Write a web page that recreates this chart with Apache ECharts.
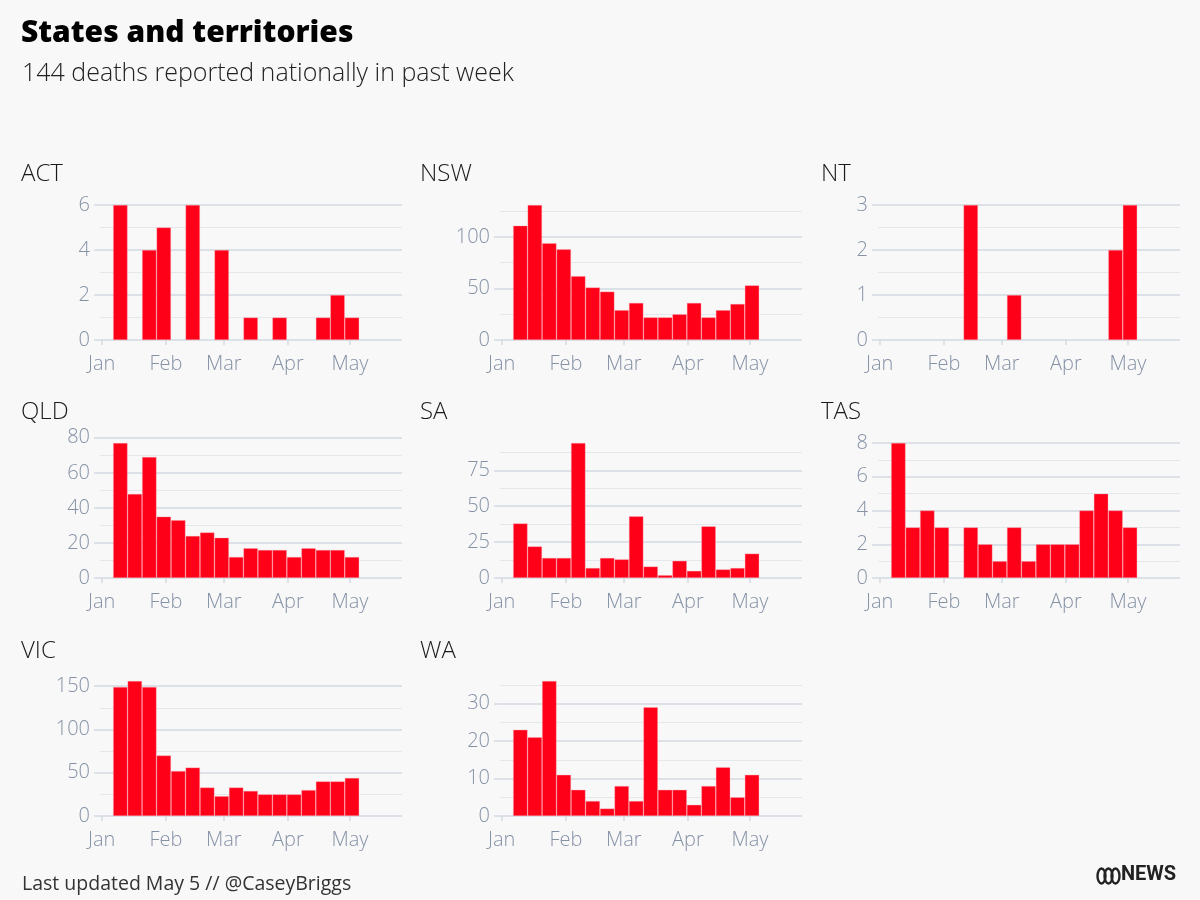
<!DOCTYPE html>
<html><head><meta charset="utf-8">
<script src="https://cdn.jsdelivr.net/npm/echarts@6/dist/echarts.min.js"></script>
<style>html,body{margin:0;padding:0;background:#f8f8f8}#c{width:1200px;height:900px}</style>
</head><body><div id="c"></div>
<script>
// ---- data ----
const weekEnding = ['2022-01-13','2022-01-20','2022-01-27','2022-02-03','2022-02-10','2022-02-17','2022-02-24',
  '2022-03-03','2022-03-10','2022-03-17','2022-03-24','2022-03-31','2022-04-07','2022-04-14','2022-04-21','2022-04-28','2022-05-05'];
const states = ['ACT','NSW','NT','QLD','SA','TAS','VIC','WA'];
const act = [6,0,4,5,0,6,0,4,0,1,0,1,0,0,1,2,1];
const nsw = [111,131,94,88,62,51,47,29,36,22,22,25,36,22,29,35,53];
const nt  = [0,0,0,0,0,3,0,0,1,0,0,0,0,0,0,2,3];
const qld = [77,48,69,35,33,24,26,23,12,17,16,16,12,17,16,16,12];
const sa  = [38,22,14,14,94,7,14,13,43,8,2,12,5,36,6,7,17];
const tas = [8,3,4,3,0,3,2,1,3,1,2,2,2,4,5,4,3];
const vic = [149,156,149,70,52,56,33,23,33,29,25,25,25,30,40,40,44];
const wa  = [23,21,36,11,7,4,2,8,4,29,7,7,3,8,13,5,11];
const seriesValues = [act, nsw, nt, qld, sa, tas, vic, wa];
const axisMaxOverride = [null,null,null,80,null,null,null,null];
const majorStep = [2,50,1,20,25,2,50,10];
const minorStep = [1,25,0.5,10,12.5,1,25,5];
const monthTicks = ['2022-01-01','2022-02-01','2022-03-01','2022-04-01','2022-05-01'];
const monthLabels = ['Jan','Feb','Mar','Apr','May'];
const titleText = 'States and territories';
const subtitleText = '144 deaths reported nationally in past week';
const footerText = 'Last updated May 5 // @CaseyBriggs';

// ---- helpers ----
function localDate(s, hours) {
  const p = s.split('-').map(Number);
  return new Date(p[0], p[1]-1, p[2], hours || 0).getTime();
}
const DAY = 86400000;
const xMin = localDate('2021-12-31', 4);
const xMax = xMin + 146 * DAY;
const monthTs = monthTicks.map(s => localDate(s));

const FONT = '"Open Sans", Lato, sans-serif';
const LABEL_COLOR = '#8592a6';
const MAJOR = '#d3d9e2';
const MINOR = '#e4e8ed';
const RED = '#ff0019';

const colLeft = [100, 500, 878];
const titleLeft = [21, 420, 821];
const rowBase = [340, 578, 816];
const plotW = 302, plotH = 135;
const titleY = [162, 400, 639];

const grids = [], xAxes = [], yAxes = [], series = [], titles = [];

titles.push({text: titleText, left: 21, top: 18, padding: 0,
  textStyle: {fontFamily: FONT, fontSize: 30, fontWeight: 800, color: '#000'}});
titles.push({text: subtitleText, left: 22, top: 61, padding: 0,
  textStyle: {fontFamily: FONT, fontSize: 25, fontWeight: 300, color: '#222'}});
titles.push({text: footerText, left: 22, top: 874, padding: 0,
  textStyle: {fontFamily: FONT, fontSize: 19.5, fontWeight: 400, color: '#333'}});

states.forEach((name, i) => {
  const col = i % 3, row = Math.floor(i / 3);
  const vals = seriesValues[i];
  const dMax = Math.max(...vals);
  const yMax = axisMaxOverride[i] != null ? axisMaxOverride[i] : dMax;
  const h = plotH * yMax / dMax;
  grids.push({left: colLeft[col], top: rowBase[row] - h, width: plotW, height: h});
  titles.push({text: name, left: titleLeft[col], top: titleY[row], padding: 0,
    textStyle: {fontFamily: FONT, fontSize: 24, fontWeight: 300, color: '#1a1a1a'}});

  const majors = [], minors = [];
  for (let v = 0; v <= yMax + 1e-9; v += minorStep[i]) {
    const r = Math.round(v * 1000) / 1000;
    if (Math.abs(r / majorStep[i] - Math.round(r / majorStep[i])) < 1e-9) majors.push(r); else minors.push(r);
  }

  xAxes.push({gridIndex: i, type: 'value', min: xMin, max: xMax, offset: 6,
    axisLine: {show: false},
    axisTick: {show: true, length: 5, customValues: monthTs, lineStyle: {color: MAJOR, width: 1.5}},
    axisLabel: {customValues: monthTs, margin: 8, color: LABEL_COLOR, fontFamily: FONT, fontSize: 20, fontWeight: 300,
      formatter: v => monthLabels[new Date(v).getMonth()]},
    splitLine: {show: false}});

  yAxes.push({gridIndex: i, type: 'value', position: 'left', min: 0, max: yMax, interval: minorStep[i],
    axisLine: {show: false},
    axisTick: {show: false, customValues: minors},
    axisLabel: {show: false},
    splitLine: {show: true, lineStyle: {color: MINOR, width: 1.2}}});
  yAxes.push({gridIndex: i, type: 'value', position: 'left', min: 0, max: yMax, interval: majorStep[i],
    axisLine: {show: false},
    axisTick: {show: true, length: 6, customValues: majors, lineStyle: {color: MAJOR, width: 1.5}},
    axisLabel: {customValues: majors, margin: 10, color: LABEL_COLOR, fontFamily: FONT, fontSize: 20, fontWeight: 300,
      formatter: v => (Math.abs(v / majorStep[i] - Math.round(v / majorStep[i])) < 1e-9 ? String(v) : '')},
    splitLine: {show: true, lineStyle: {color: MAJOR, width: 1.5}}});

  series.push({type: 'bar', name: name, xAxisIndex: i, yAxisIndex: 2 * i,
    data: weekEnding.map((d, k) => ({
      value: [localDate(d, 12) - 3.5 * DAY, vals[k]],
      itemStyle: vals[k] === 0 ? {borderWidth: 0, opacity: 0} : undefined
    })),
    barWidth: '100%', silent: true, z: 3,
    itemStyle: {color: RED, borderColor: 'rgba(255,170,180,0.55)', borderWidth: 0.6}});
});

const chart = echarts.init(document.getElementById('c'), null, {renderer: 'canvas'});
chart.setOption({
  backgroundColor: '#f8f8f8',
  animation: false,
  title: titles,
  grid: grids,
  xAxis: xAxes,
  yAxis: yAxes,
  series: series,
  graphic: [
    {type: 'group', left: 1095, top: 866, children: [
      {type: 'ellipse', shape: {cx: 5, cy: 9, rx: 4, ry: 7.5}, style: {fill: 'none', stroke: '#222', lineWidth: 2.4}},
      {type: 'ellipse', shape: {cx: 12, cy: 9, rx: 4, ry: 7.5}, style: {fill: 'none', stroke: '#222', lineWidth: 2.4}},
      {type: 'ellipse', shape: {cx: 19, cy: 9, rx: 4, ry: 7.5}, style: {fill: 'none', stroke: '#222', lineWidth: 2.4}}
    ]},
    {type: 'text', left: 1121, top: 865, style: {text: 'NEWS', fill: '#222', font: 'bold 20px Roboto, sans-serif'}}
  ]
});
</script></body></html>
